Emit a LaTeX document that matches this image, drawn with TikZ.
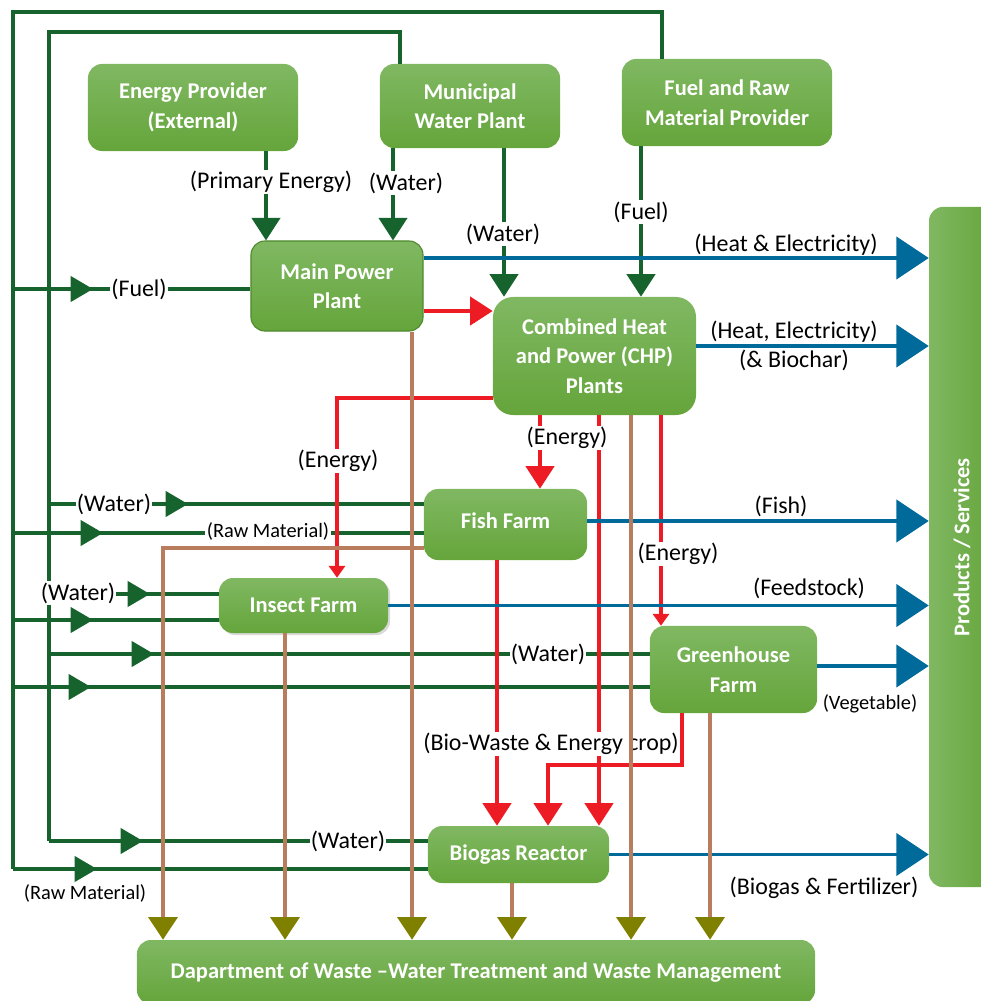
\documentclass[tikz,border=0pt]{standalone}
\usepackage{fontspec}
\setmainfont{Carlito}
\usetikzlibrary{arrows.meta, positioning, calc, decorations.markings, shadows}
\definecolor{LineGreen}{HTML}{17632E}
\definecolor{FlowBlue}{HTML}{006A9B}
\definecolor{FlowRed}{HTML}{ED1C24}
\definecolor{WasteBrown}{HTML}{B97C5C}
\definecolor{TipOlive}{HTML}{808000}
\definecolor{BoxTop}{HTML}{80B862}
\definecolor{BoxBot}{HTML}{65A53B}
\definecolor{BoxEdge}{HTML}{4E8A2E}
\newcommand{\boxfont}{\bfseries\fontsize{16}{21}\selectfont}
\newcommand{\tagfont}{\fontsize{17}{20.5}\selectfont}
\newcommand{\smalltagfont}{\fontsize{14.5}{17}\selectfont}
\tikzset{
  unit/.style={rounded corners=0.35cm, top color=BoxTop, bottom color=BoxBot,
    text=white, font=\boxfont, align=center, inner sep=2pt},
  sideunit/.style={rounded corners=0.35cm, left color=BoxTop, right color=BoxBot,
    text=white, font=\boxfont, inner sep=2pt},
  gline/.style={LineGreen, line width=2.6pt},
  gdown/.style={gline, -{Triangle[length=16pt,width=20pt]}},
  gmid/.style={postaction={decorate, decoration={markings,
    mark=at position #1 with {\arrow{Triangle[length=16pt,width=18pt]}}}}},
  bline/.style={FlowBlue, line width=2.6pt, -{Triangle[length=23pt,width=30pt]}},
  rline/.style={FlowRed, line width=2.6pt, -{Triangle[length=16pt,width=20pt]}},
  rlinesmall/.style={FlowRed, line width=2.6pt, -{Triangle[length=8.5pt,width=11.5pt]}},
  wline/.style={WasteBrown, line width=2.6pt, -{Triangle[length=16pt,width=20.5pt,color=TipOlive]}},
  tag/.style={font=\tagfont, inner sep=1pt, fill=white},
  smalltag/.style={font=\smalltagfont, inner sep=1pt, fill=white},
  note/.style={font=\tagfont, inner sep=0pt}
}

\begin{document}
\begin{tikzpicture}[x=0.025cm, y=-0.025cm]
  \useasboundingbox (0,0) rectangle (981,1001);

  % units
  \node[unit, minimum width=5.25cm, minimum height=2.175cm] (ep) at (193,107.5) {Energy Provider\\(External)};
  \node[unit, minimum width=4.5cm, minimum height=2.1cm] (mwp) at (470,106) {Municipal\\Water Plant};
  \node[unit, minimum width=5.25cm, minimum height=2.175cm] (frm) at (727,102.5) {Fuel and Raw\\Material Provider};
  \node[unit, draw=BoxEdge, line width=0.8pt, minimum width=4.3cm, minimum height=2.25cm] (mpp) at (337,286) {Main Power\\Plant};
  \node[unit, rounded corners=0.5cm, minimum width=5.075cm, minimum height=2.95cm] (chp) at (594.5,356) {Combined Heat\\and Power (CHP)\\Plants};
  \node[unit, minimum width=4.075cm, minimum height=1.775cm] (ff) at (505.5,524.5) {\raisebox{6pt}{Fish Farm}};
  \node[unit, drop shadow={opacity=0.3, shadow xshift=1.5pt, shadow yshift=-1.5pt}, minimum width=4.225cm, minimum height=1.375cm] (inf) at (303.5,605.5) {Insect Farm};
  \node[unit, minimum width=4.175cm, minimum height=2.175cm] (ghf) at (733.5,669.5) {Greenhouse\\Farm};
  \node[unit, minimum width=4.525cm, minimum height=1.425cm] (bgr) at (518.5,854.5) {Biogas Reactor};
  \node[unit, minimum width=16.95cm, minimum height=1.6cm] (dep) at (476,972) {Dapartment of Waste –Water Treatment and Waste Management};
  \node[sideunit, minimum width=1.65cm, minimum height=17cm] (ps) at (962,547) {\rotatebox{90}{Products / Services}};

  % columns and rows
  \coordinate (cOut) at (13,0);
  \coordinate (cIn) at (49,0);
  \coordinate (cFrm) at (662,0);
  \coordinate (cMwp) at (400,0);
  \coordinate (cPe) at (266,0);
  \coordinate (cMw1) at (393,0);
  \coordinate (cMw2) at (504,0);
  \coordinate (cFuel) at (641,0);
  \coordinate (cInsE) at (337,0);
  \coordinate (cFishE) at (540,0);
  \coordinate (cGhE) at (661,0);
  \coordinate (cBg1) at (497,0);
  \coordinate (cBg2) at (548,0);
  \coordinate (cBg3) at (599,0);
  \coordinate (cGhB) at (682,0);
  \coordinate (cW1) at (163,0);
  \coordinate (cW2) at (285,0);
  \coordinate (cW3) at (412,0);
  \coordinate (cW4) at (512,0);
  \coordinate (cW5) at (631,0);
  \coordinate (cW6) at (710,0);
  \coordinate (rTop) at (0,12);
  \coordinate (rTop2) at (0,32);
  \coordinate (rFuel) at (0,289);
  \coordinate (rHE) at (0,258);
  \coordinate (rMc) at (0,311);
  \coordinate (rChp) at (0,346);
  \coordinate (rChpIns) at (0,398);
  \coordinate (rFishW) at (0,504);
  \coordinate (rFishO) at (0,521);
  \coordinate (rFishR) at (0,533);
  \coordinate (rFishB) at (0,548);
  \coordinate (rInsW) at (0,594);
  \coordinate (rInsR) at (0,620);
  \coordinate (rGhW) at (0,654);
  \coordinate (rGhO) at (0,666);
  \coordinate (rGhR) at (0,687);
  \coordinate (rBw) at (0,765);
  \coordinate (rBgW) at (0,841);
  \coordinate (rBgR) at (0,869);

  % supply loops
  \draw[gline] (frm.north -| cFrm) -- (cFrm |- rTop) -- (cOut |- rTop) -- (cOut |- rBgR);
  \draw[gline] (mwp.north -| cMwp) -- (cMwp |- rTop2) -- (cIn |- rTop2) -- (cIn |- rBgW);
  \draw[gline, gmid=2cm] (cOut |- rFuel) -- (mpp.west |- rFuel);
  \draw[gline, gmid=2.25cm] (cOut |- rFishR) -- (ff.west |- rFishR);
  \draw[gline, gmid=2cm] (cOut |- rInsR) -- (inf.west |- rInsR);
  \draw[gline, gmid=1.95cm] (cOut |- rGhR) -- (ghf.west |- rGhR);
  \draw[gline, gmid=2.1cm] (cOut |- rBgR) -- (bgr.west |- rBgR);
  \draw[gline, gmid=3.475cm] (cIn |- rFishW) -- (ff.west |- rFishW);
  \draw[gline, gmid=2.525cm] (cIn |- rInsW) -- (inf.west |- rInsW);
  \draw[gline, gmid=2.625cm] (cIn |- rGhW) -- (ghf.west |- rGhW);
  \draw[gline, gmid=2.35cm] (cIn |- rBgW) -- (bgr.west |- rBgW);
  \draw[gdown] (ep.south -| cPe) -- (mpp.north -| cPe);
  \draw[gdown] (mwp.south -| cMw1) -- (mpp.north -| cMw1);
  \draw[gdown] (mwp.south -| cMw2) -- (chp.north -| cMw2);
  \draw[gdown] (frm.south -| cFuel) -- (chp.north -| cFuel);

  % energy and bio-waste
  \draw[rline] (mpp.east |- rMc) -- (chp.west |- rMc);
  \draw[rlinesmall] (chp.west |- rChpIns) -| (inf.north -| cInsE);
  \draw[rline] (chp.south -| cFishE) -- (ff.north -| cFishE);
  \draw[rlinesmall] (chp.south -| cGhE) -- (ghf.north -| cGhE);
  \draw[rline] (chp.south -| cBg3) -- (bgr.north -| cBg3);
  \draw[rline] (ff.south -| cBg1) -- (bgr.north -| cBg1);
  \draw[rline] (ghf.south -| cGhB) -- (cGhB |- rBw) -| (bgr.north -| cBg2);

  % products
  \draw[bline] (mpp.east |- rHE) -- (ps.west |- rHE);
  \draw[bline] (chp.east |- rChp) -- (ps.west |- rChp);
  \draw[bline] (ff.east |- rFishO) -- (ps.west |- rFishO);
  \draw[bline] (inf.east) -- (ps.west |- inf.east);
  \draw[bline] (ghf.east |- rGhO) -- (ps.west |- rGhO);
  \draw[bline] (bgr.east) -- (ps.west |- bgr.east);

  % labels
  \node[tag] (tPrim) at (271,182) {(Primary Energy)};
  \node[tag] (tWat1) at (406,183) {(Water)};
  \node[tag] (tWat2) at (503,234) {(Water)};
  \node[tag] (tFuel1) at (641,212) {(Fuel)};
  \node[tag] (tFuel2) at (139,289) {(Fuel)};
  \node[note, anchor=south] (tHE) at (786,256) {(Heat \& Electricity)};
  \node[note, align=center] (tHEB) at (794,346) {(Heat, Electricity)\\(\& Biochar)};
  \node[tag] (tEn1) at (338,461) {(Energy)};
  \node[tag] (tEn2) at (567,438) {(Energy)};
  \node[tag] (tEn3) at (678,554) {(Energy)};
  \node[tag] (tWat3) at (114,504) {(Water)};
  \node[smalltag] (tRaw1) at (268,531) {(Raw Material)};
  \node[note, anchor=south] (tFish) at (781,517) {(Fish)};
  \node[tag] (tWat4) at (78,593) {(Water)};
  \node[note, anchor=south] (tFeed) at (809,599) {(Feedstock)};
  \node[tag] (tWat5) at (548,654) {(Water)};
  \node[smalltag] (tVeg) at (870,704) {(Vegetable)};
  \node[tag] (tBio) at (551,744) {(Bio-Waste \& Energy crop)};
  \node[tag] (tWat6) at (348,841) {(Water)};
  \node[note] (tBgF) at (824,888) {(Biogas \& Fertilizer)};
  \node[smalltag] (tRaw2) at (85,893) {(Raw Material)};

  % waste streams
  \draw[wline] (ff.west |- rFishB) -| (dep.north -| cW1);
  \draw[wline] (inf.south -| cW2) -- (dep.north -| cW2);
  \draw[wline] (mpp.south -| cW3) -- (dep.north -| cW3);
  \draw[wline] (bgr.south -| cW4) -- (dep.north -| cW4);
  \draw[wline] (chp.south -| cW5) -- (dep.north -| cW5);
  \draw[wline] (ghf.south -| cW6) -- (dep.north -| cW6);
\end{tikzpicture}
\end{document}
